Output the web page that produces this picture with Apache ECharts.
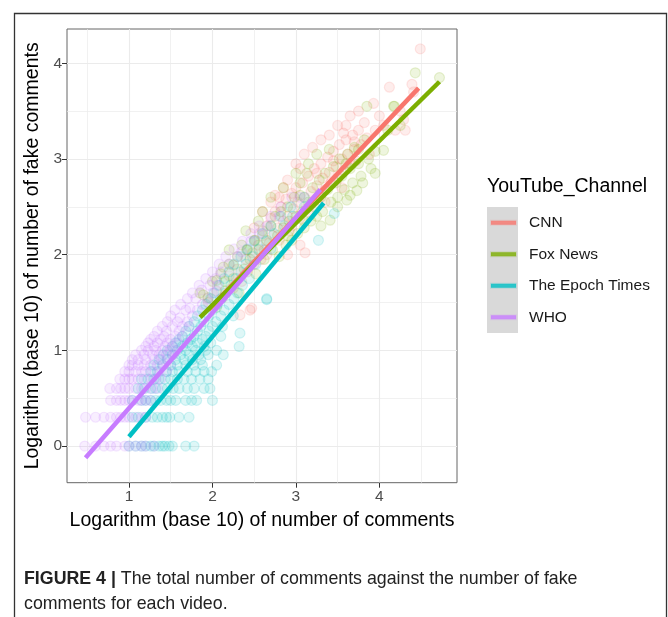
<!DOCTYPE html>
<html>
<head>
<meta charset="utf-8">
<script src="https://cdn.jsdelivr.net/npm/echarts@6/dist/echarts.min.js"></script>
<style>
html, body { margin: 0; padding: 0; background: #ffffff; }
#chart { width: 668px; height: 617px; }
</style>
</head>
<body>
<div id="chart"></div>
<script>
// Channels and their ggplot-style hues
const channels = ['CNN', 'Fox News', 'The Epoch Times', 'WHO'];
const channelColors = ['#F8766D', '#7CAE00', '#00BFC4', '#C77CFF'];

// Axis tick values (log10 scale)
const xTicks = [1, 2, 3, 4];
const yTicks = [0, 1, 2, 3, 4];

// Per-video values: [log10(comments), log10(fake comments)]
const cnnPoints = [
  [1.95,1.50],[2.05,1.62],[2.12,1.55],[2.20,1.78],[2.25,1.65],[2.30,1.85],[2.33,1.37],[2.35,1.72],
  [2.40,1.95],[2.42,1.82],[2.45,1.42],[2.47,1.44],[2.48,2.02],[2.50,1.90],[2.50,2.28],[2.55,2.10],
  [2.58,1.95],[2.60,2.20],[2.60,2.45],[2.62,2.05],[2.65,2.30],[2.65,2.00],[2.68,2.12],[2.70,2.38],
  [2.70,2.55],[2.72,2.20],[2.75,2.45],[2.75,2.62],[2.78,2.28],[2.80,2.15],[2.80,2.60],[2.82,2.50],
  [2.85,2.35],[2.85,2.70],[2.88,2.58],[2.90,2.40],[2.90,2.00],[2.90,2.78],[2.92,2.25],[2.95,2.64],
  [2.95,2.30],[2.97,2.48],[3.00,2.70],[3.00,2.95],[3.02,2.55],[3.05,2.38],[3.05,2.90],[3.05,2.10],
  [3.08,2.75],[3.10,2.60],[3.10,3.05],[3.11,2.02],[3.12,2.48],[3.15,2.82],[3.15,2.45],[3.18,2.66],
  [3.20,2.55],[3.20,3.12],[3.22,2.90],[3.25,2.72],[3.25,2.85],[3.28,2.60],[3.30,2.95],[3.30,3.20],
  [3.32,2.80],[3.35,2.68],[3.35,2.55],[3.38,3.02],[3.40,2.86],[3.40,3.25],[3.42,2.75],[3.45,3.08],
  [3.45,2.98],[3.48,2.92],[3.50,2.80],[3.50,3.35],[3.52,3.15],[3.55,3.00],[3.55,2.70],[3.57,3.27],
  [3.58,2.88],[3.60,3.20],[3.60,3.35],[3.62,3.05],[3.65,2.95],[3.65,3.45],[3.68,3.25],[3.70,3.10],
  [3.70,3.18],[3.72,2.98],[3.75,3.30],[3.75,3.50],[3.78,3.15],[3.82,3.38],[3.85,3.22],[3.88,3.05],
  [3.93,3.58],[3.95,3.30],[4.00,3.45],[4.05,3.35],[4.12,3.75],[4.19,3.30],[4.25,3.50],[4.29,3.41],
  [4.31,3.30],[4.39,3.78],[4.41,3.70],[4.49,4.15]
];
const foxPoints = [
  [1.85,1.60],[1.89,1.58],[1.95,1.55],[2.00,1.72],[2.05,1.45],[2.05,1.73],[2.10,1.80],[2.13,1.87],
  [2.15,1.62],[2.15,1.72],[2.20,1.90],[2.20,2.05],[2.25,1.75],[2.25,1.89],[2.30,1.98],[2.32,1.60],
  [2.35,2.10],[2.38,1.85],[2.40,2.25],[2.41,2.05],[2.42,2.05],[2.45,1.95],[2.50,2.15],[2.51,2.15],
  [2.52,1.80],[2.55,2.05],[2.55,2.35],[2.60,2.25],[2.60,2.45],[2.62,1.95],[2.65,2.15],[2.70,2.30],
  [2.70,2.60],[2.72,2.05],[2.75,2.40],[2.78,2.20],[2.80,1.98],[2.82,2.45],[2.85,2.28],[2.85,2.70],
  [2.88,2.10],[2.90,2.50],[2.90,2.20],[2.92,2.35],[2.95,2.15],[2.98,2.60],[3.00,2.40],[3.00,2.85],
  [3.02,2.22],[3.05,2.62],[3.05,2.75],[3.08,2.45],[3.10,2.28],[3.10,2.35],[3.13,2.85],[3.15,2.55],
  [3.15,2.95],[3.18,2.35],[3.20,2.70],[3.22,2.50],[3.25,2.40],[3.25,3.05],[3.28,2.78],[3.30,2.60],
  [3.30,2.30],[3.32,2.45],[3.35,2.85],[3.38,2.68],[3.40,3.10],[3.41,2.36],[3.42,2.55],[3.45,2.92],
  [3.48,2.75],[3.50,2.60],[3.50,2.50],[3.52,3.00],[3.55,2.82],[3.58,2.68],[3.60,2.95],[3.61,2.57],
  [3.62,3.05],[3.65,2.90],[3.65,2.62],[3.68,2.75],[3.70,3.12],[3.73,2.67],[3.75,2.95],[3.75,3.10],
  [3.78,2.82],[3.80,2.75],[3.82,3.20],[3.85,3.55],[3.87,3.00],[3.90,2.90],[3.95,3.08],[3.95,2.85],
  [4.05,3.09],[4.10,3.30],[4.17,3.55],[4.18,3.55],[4.25,3.35],[4.43,3.90],[4.72,3.85]
];
const epochPoints = [
  [1.00,0],[1.08,0],[1.15,0],[1.20,0],[1.26,0],[1.30,0],[1.36,0],[1.40,0],[1.43,0],[1.48,0],[1.52,0],[1.68,0],[1.78,0],
  [1.04,0.301],[1.11,0.301],[1.20,0.301],[1.28,0.301],[1.34,0.301],[1.40,0.301],[1.45,0.301],[1.49,0.301],[1.60,0.301],[1.72,0.301],
  [1.04,0.477],[1.15,0.477],[1.20,0.477],[1.26,0.477],[1.32,0.477],[1.38,0.477],[1.45,0.477],[1.50,0.477],[1.56,0.477],[1.68,0.477],[1.75,0.477],[1.81,0.477],[2.00,0.477],
  [1.11,0.602],[1.18,0.602],[1.26,0.602],[1.32,0.602],[1.40,0.602],[1.46,0.602],[1.53,0.602],[1.60,0.602],[1.70,0.602],[1.78,0.602],[1.90,0.602],[1.97,0.602],
  [1.15,0.699],[1.23,0.699],[1.30,0.699],[1.36,0.699],[1.43,0.699],[1.50,0.699],[1.58,0.699],[1.66,0.699],[1.75,0.699],[1.85,0.699],[1.95,0.699],
  [1.26,0.778],[1.34,0.778],[1.45,0.778],[1.52,0.778],[1.60,0.778],[1.70,0.778],[1.80,0.778],[1.90,0.778],[1.99,0.778],
  [1.30,0.845],[1.40,0.845],[1.50,0.845],[1.58,0.845],[1.68,0.845],[1.78,0.845],[1.88,0.845],[2.05,0.845],
  [1.36,0.903],[1.46,0.903],[1.56,0.903],[1.66,0.903],[1.76,0.903],[1.86,0.903],
  [1.41,0.954],[1.52,0.954],[1.62,0.954],[1.72,0.954],[1.84,0.954],[1.95,0.954],[2.13,0.954],
  [1.46,1.0],[1.58,1.0],[1.68,1.0],[1.80,1.0],[1.92,1.0],[2.05,1.0],
  [1.52,1.041],[1.64,1.041],[1.76,1.041],[1.90,1.041],[2.32,1.04],
  [1.56,1.079],[1.70,1.079],[1.82,1.079],[1.98,1.079],
  [1.60,1.114],[1.74,1.114],[1.88,1.114],
  [1.64,1.146],[1.78,1.146],[1.92,1.146],[2.10,1.146],[2.33,1.18],
  [1.68,1.20],[1.82,1.20],[1.96,1.20],
  [1.72,1.25],[1.86,1.25],[2.00,1.25],[2.12,1.25],
  [1.78,1.30],[1.90,1.30],[2.04,1.30],
  [1.82,1.36],[1.96,1.36],[2.10,1.36],[2.25,1.36],
  [1.88,1.42],[2.00,1.42],[2.14,1.42],
  [1.92,1.48],[2.06,1.48],[2.20,1.48],
  [1.98,1.54],[2.10,1.54],[2.26,1.54],[2.65,1.54],[2.65,1.53],
  [2.02,1.60],[2.16,1.60],[2.30,1.60],
  [2.08,1.68],[2.22,1.68],[2.36,1.68],
  [2.14,1.75],[2.28,1.75],[2.44,1.75],
  [2.20,1.82],[2.34,1.82],
  [2.26,1.90],[2.40,1.90],[2.52,1.90],
  [2.34,1.98],[2.48,1.98],
  [2.42,2.06],[2.56,2.06],[2.70,2.06],
  [2.50,2.14],[2.64,2.14],[3.27,2.15],
  [2.60,2.22],[2.74,2.22],
  [2.70,2.30],[2.86,2.30],
  [2.82,2.40],[2.96,2.40],[3.46,2.43],
  [2.94,2.50],[3.10,2.50],
  [3.10,2.60]
];
const whoPoints = [
  [0.47,0],[0.60,0],[0.70,0],[0.78,0],[0.85,0],[0.95,0],[1.00,0],[1.08,0],[1.15,0],[1.20,0],[1.30,0],
  [0.48,0.301],[0.60,0.301],[0.70,0.301],[0.78,0.301],[0.85,0.301],[0.90,0.301],[0.95,0.301],[1.00,0.301],[1.08,0.301],[1.15,0.301],[1.20,0.301],
  [0.78,0.477],[0.85,0.477],[0.90,0.477],[0.95,0.477],[1.00,0.477],[1.04,0.477],[1.11,0.477],[1.15,0.477],[1.20,0.477],[1.26,0.477],
  [0.77,0.602],[0.85,0.602],[0.90,0.602],[0.95,0.602],[1.00,0.602],[1.08,0.602],[1.15,0.602],[1.20,0.602],[1.28,0.602],[1.34,0.602],
  [0.89,0.699],[0.95,0.699],[1.00,0.699],[1.04,0.699],[1.11,0.699],[1.18,0.699],[1.26,0.699],[1.32,0.699],[1.38,0.699],
  [0.95,0.778],[1.00,0.778],[1.08,0.778],[1.15,0.778],[1.20,0.778],[1.28,0.778],[1.36,0.778],[1.45,0.778],
  [1.00,0.845],[1.04,0.845],[1.11,0.845],[1.18,0.845],[1.26,0.845],[1.34,0.845],[1.41,0.845],[1.50,0.845],
  [1.04,0.903],[1.11,0.903],[1.20,0.903],[1.30,0.903],[1.38,0.903],[1.46,0.903],
  [1.08,0.954],[1.18,0.954],[1.28,0.954],[1.36,0.954],[1.45,0.954],[1.53,0.954],
  [1.15,1.0],[1.23,1.0],[1.32,1.0],[1.40,1.0],[1.49,1.0],[1.56,1.0],
  [1.20,1.041],[1.30,1.041],[1.43,1.041],[1.52,1.041],
  [1.23,1.079],[1.34,1.079],[1.46,1.079],[1.58,1.079],
  [1.26,1.114],[1.38,1.114],[1.50,1.114],
  [1.30,1.146],[1.42,1.146],[1.56,1.146],[1.64,1.146],
  [1.34,1.20],[1.45,1.20],[1.60,1.20],
  [1.40,1.25],[1.52,1.25],[1.64,1.25],[1.72,1.25],
  [1.46,1.30],[1.58,1.30],[1.70,1.30],
  [1.50,1.36],[1.61,1.34],[1.76,1.36],
  [1.55,1.42],[1.68,1.42],[1.82,1.42],
  [1.62,1.48],[1.73,1.44],[1.88,1.48],
  [1.70,1.54],[1.80,1.54],[1.94,1.54],
  [1.76,1.60],[1.87,1.63],[2.00,1.60],
  [1.84,1.68],[1.97,1.68],[2.06,1.68],
  [1.92,1.75],[2.04,1.75],
  [2.00,1.82],[2.10,1.82],
  [2.08,1.90],[2.20,1.90],
  [2.16,1.98],[2.30,1.98],
  [2.26,2.06],[2.35,2.03],
  [2.36,2.14],[2.46,2.14],
  [2.46,2.22],[2.56,2.22],
  [2.56,2.30],[2.66,2.30],
  [2.70,2.40],[2.80,2.40],
  [2.82,2.50],
  [2.95,2.60],[3.05,2.60]
];

// Fitted least-squares lines: start and end point per channel
const fitStart = [[1.95, 1.42], [1.852, 1.345], [1.0, 0.097], [0.48, -0.122]];
const fitEnd = [[4.47, 3.74], [4.72, 3.807], [3.333, 2.54], [3.293, 2.68]];

const pointSets = [cnnPoints, foxPoints, epochPoints, whoPoints];

function withAlpha(hex, a) {
  const n = parseInt(hex.slice(1), 16);
  return 'rgba(' + ((n >> 16) & 255) + ',' + ((n >> 8) & 255) + ',' + (n & 255) + ',' + a + ')';
}

const chart = echarts.init(document.getElementById('chart'), null, { renderer: 'canvas' });

const series = [];
channels.forEach(function (name, i) {
  series.push({
    name: name,
    type: 'scatter',
    data: pointSets[i],
    symbol: 'circle',
    symbolSize: 10,
    itemStyle: {
      color: withAlpha(channelColors[i], 0.16),
      borderColor: withAlpha(channelColors[i], 0.2),
      borderWidth: 1.2
    },
    emphasis: { disabled: true },
    z: 2
  });
});
channels.forEach(function (name, i) {
  series.push({
    name: name,
    type: 'line',
    data: [fitStart[i], fitEnd[i]],
    symbol: 'none',
    lineStyle: { color: channelColors[i], width: 4.5, cap: 'butt' },
    emphasis: { disabled: true },
    z: 3
  });
});

const font = 'Liberation Sans, Arial, Helvetica, sans-serif';

chart.setOption({
  animation: false,
  backgroundColor: '#ffffff',
  grid: {
    left: 67, top: 29, width: 390, height: 453.7,
    show: true, borderColor: '#666666', borderWidth: 1, backgroundColor: '#ffffff',
    containLabel: false
  },
  xAxis: {
    type: 'value',
    min: 0.2575, max: 4.93,
    name: 'Logarithm (base 10) of number of comments',
    nameLocation: 'middle',
    nameGap: 28,
    nameTextStyle: { fontFamily: font, fontSize: 19.5, color: '#000000' },
    axisLine: { show: false, onZero: false },
    axisTick: { show: true, inside: false, customValues: xTicks, length: 5, lineStyle: { color: '#333333', width: 1 } },
    axisLabel: { customValues: xTicks, fontFamily: font, fontSize: 15.5, color: '#4d4d4d', margin: 6 },
    splitLine: { show: true, lineStyle: { color: '#ebebeb', width: 1.1 } },
    minorTick: { show: false, splitNumber: 2 },
    minorSplitLine: { show: true, lineStyle: { color: '#ebebeb', width: 0.7 } }
  },
  yAxis: {
    type: 'value',
    min: -0.383, max: 4.358,
    name: 'Logarithm (base 10) of number of fake comments',
    nameLocation: 'middle',
    nameGap: 21,
    nameTextStyle: { fontFamily: font, fontSize: 19.5, color: '#000000' },
    axisLine: { show: false, onZero: false },
    axisTick: { show: true, inside: false, customValues: yTicks, length: 5, lineStyle: { color: '#333333', width: 1 } },
    axisLabel: { customValues: yTicks, fontFamily: font, fontSize: 15.5, color: '#4d4d4d', margin: 5 },
    splitLine: { show: true, lineStyle: { color: '#ebebeb', width: 1.1 } },
    minorTick: { show: false, splitNumber: 2 },
    minorSplitLine: { show: true, lineStyle: { color: '#ebebeb', width: 0.7 } }
  },
  legend: {
    orient: 'vertical',
    left: 490, top: 207,
    itemWidth: 25, itemHeight: 4, itemGap: 0,
    padding: 0,
    icon: 'rect',
    selectedMode: false,
    data: channels.map(function (name, i) {
      return { name: name, itemStyle: { color: channelColors[i] } };
    }),
    textStyle: { fontFamily: font, fontSize: 15.5, color: '#1a1a1a', lineHeight: 31.5, padding: [0, 0, 0, 8] }
  },
  graphic: [
    {
      type: 'rect', left: 487, top: 207, z: -1, silent: true,
      shape: { width: 31, height: 126 },
      style: { fill: '#d9d9d9' }
    },
    {
      type: 'text', left: 487, top: 177, silent: true,
      style: { text: 'YouTube_Channel', font: '19.5px ' + font, fill: '#000000' }
    },
    {
      type: 'rect', left: 12, top: 11, silent: true,
      shape: { width: 652, height: 620 },
      style: { fill: 'none', stroke: '#333333', lineWidth: 1.3 }
    },
    {
      type: 'text', left: 24, top: 567, silent: true,
      style: {
        text: '{b|FIGURE 4 |} The total number of comments against the number of fake\ncomments for each video.',
        font: '17.8px ' + font,
        fill: '#222222',
        lineHeight: 25,
        rich: {
          b: { fontFamily: font, fontSize: 17.8, fontWeight: 'bold', fill: '#222222', lineHeight: 25 }
        }
      }
    }
  ],
  series: series
});
</script>
</body>
</html>
